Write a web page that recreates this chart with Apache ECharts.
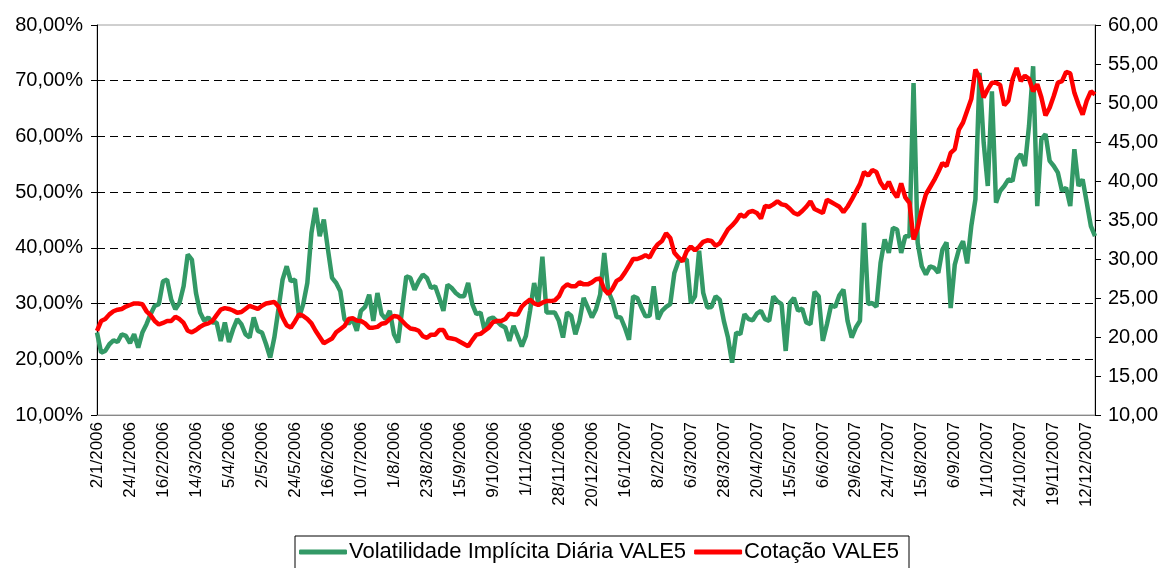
<!DOCTYPE html>
<html>
<head>
<meta charset="utf-8">
<script src="https://cdn.jsdelivr.net/npm/echarts@6/dist/echarts.min.js"></script>
<style>
  html, body { margin: 0; padding: 0; background: #fff; }
  #chart { width: 1167px; height: 568px; }
</style>
</head>
<body>
<div id="chart"></div>
<script>
// one label every 16 trading days; data sampled every 2 trading days
const tickLabels = [
  "2/1/2006", "24/1/2006", "16/2/2006", "14/3/2006", "5/4/2006", "2/5/2006",
  "24/5/2006", "16/6/2006", "10/7/2006", "1/8/2006", "23/8/2006", "15/9/2006",
  "9/10/2006", "1/11/2006", "28/11/2006", "20/12/2006", "16/1/2007", "8/2/2007",
  "6/3/2007", "28/3/2007", "20/4/2007", "15/5/2007", "6/6/2007", "29/6/2007",
  "24/7/2007", "15/8/2007", "6/9/2007", "1/10/2007", "24/10/2007", "19/11/2007",
  "12/12/2007"
];

const volatilidade = [
  24.8, 21.2, 21.5, 22.7, 23.4, 23.1, 24.5, 24.2, 22.9, 24.5,
  22.1, 24.8, 26.3, 28.1, 29.6, 29.9, 34.0, 34.3, 30.7, 29.0,
  30.1, 33.1, 38.8, 37.9, 31.9, 28.4, 26.9, 27.5, 26.6, 26.6,
  23.3, 26.6, 23.1, 25.4, 27.2, 26.3, 24.5, 23.9, 27.5, 25.1,
  24.8, 22.7, 20.3, 23.9, 29.0, 34.3, 36.7, 34.0, 34.3, 27.5,
  29.9, 33.7, 42.7, 47.2, 42.1, 45.1, 39.7, 34.6, 33.7, 32.2,
  27.2, 26.4, 27.2, 25.1, 28.7, 29.4, 31.6, 26.9, 31.9, 28.1,
  27.2, 28.7, 24.5, 23.0, 29.0, 34.9, 34.6, 32.5, 34.0, 35.2,
  34.6, 32.8, 33.1, 31.0, 28.7, 33.4, 32.8, 31.9, 31.3, 31.3,
  33.7, 29.9, 28.1, 28.4, 25.1, 27.2, 27.5, 26.8, 26.1, 25.7,
  23.3, 26.0, 24.2, 22.3, 24.2, 28.7, 33.7, 30.1, 38.4, 28.4,
  28.4, 28.4, 26.9, 23.9, 28.4, 27.8, 24.5, 26.9, 31.0, 29.3,
  27.5, 29.0, 31.6, 39.1, 32.2, 30.4, 27.6, 27.5, 25.7, 23.5,
  31.3, 31.0, 29.3, 27.7, 27.8, 33.1, 27.2, 28.7, 29.4, 29.9,
  35.5, 37.6, 37.9, 37.9, 30.1, 31.3, 39.5, 31.9, 29.3, 29.4,
  31.3, 30.7, 26.9, 23.9, 19.4, 24.8, 24.5, 28.1, 27.2, 27.0,
  28.2, 28.7, 27.2, 26.9, 31.3, 30.4, 29.9, 21.5, 30.1, 31.0,
  28.7, 29.1, 26.6, 26.3, 32.1, 31.3, 23.3, 26.3, 29.7, 29.4,
  31.5, 32.5, 26.9, 23.9, 25.7, 26.9, 44.5, 29.9, 30.1, 29.4,
  37.3, 41.5, 39.1, 43.6, 43.3, 39.1, 42.1, 42.1, 69.6, 40.9,
  36.7, 35.2, 36.7, 36.4, 35.5, 39.7, 41.0, 29.2, 37.0, 39.7,
  41.2, 37.2, 43.9, 48.7, 71.4, 58.9, 51.1, 68.1, 48.1, 50.2,
  51.1, 52.3, 52.0, 55.9, 56.8, 54.7, 61.9, 72.6, 47.5, 59.5,
  60.4, 55.6, 54.7, 53.5, 50.2, 50.8, 47.5, 57.7, 51.1, 52.3,
  48.1, 43.9, 42.1
];

const cotacao = [
  20.8, 22.05, 22.3, 22.9, 23.3, 23.5, 23.6, 23.9, 24.1, 24.3,
  24.3, 24.2, 23.3, 22.8, 22.05, 21.6, 21.8, 22.05, 22.05, 22.6,
  22.3, 21.8, 20.8, 20.6, 20.9, 21.3, 21.6, 21.75, 22.05, 22.8,
  23.5, 23.7, 23.6, 23.4, 23.1, 23.2, 23.6, 24.0, 23.8, 23.6,
  24.0, 24.3, 24.4, 24.5, 23.9, 22.5, 21.5, 21.2, 22.0, 22.9,
  22.7, 22.3, 21.75, 20.8, 20.0, 19.2, 19.5, 19.8, 20.6, 21.0,
  21.4, 22.3, 22.4, 22.1, 22.05, 21.75, 21.2, 21.2, 21.3, 21.7,
  21.8, 22.3, 22.7, 22.6, 22.05, 21.5, 21.1, 21.0, 20.8, 20.1,
  19.9, 20.3, 20.3, 20.9, 20.9, 19.9, 19.8, 19.7, 19.4, 19.1,
  18.8, 19.6, 20.3, 20.4, 20.8, 21.2, 21.9, 22.05, 22.05, 22.3,
  23.0, 22.9, 22.9, 23.9, 24.4, 24.8, 24.3, 24.1, 24.4, 24.6,
  24.6, 24.7, 25.2, 26.3, 26.75, 26.5, 26.5, 27.0, 26.75, 26.75,
  27.0, 27.4, 27.5, 26.1, 25.5, 26.2, 27.2, 27.5, 28.25, 29.1,
  30.0, 30.0, 30.2, 30.5, 30.2, 31.2, 31.9, 32.3, 33.3, 32.7,
  30.8, 30.2, 29.7, 31.0, 31.6, 31.1, 31.6, 32.2, 32.4, 32.3,
  31.7, 32.0, 32.9, 33.8, 34.3, 34.9, 35.7, 35.4, 36.0, 36.15,
  35.9, 35.2, 36.8, 36.7, 37.0, 37.4, 37.0, 36.9, 36.45, 35.9,
  35.7, 36.15, 36.7, 37.4, 36.4, 36.15, 35.9, 37.6, 37.3, 37.0,
  36.7, 36.0, 36.7, 37.6, 38.6, 39.6, 41.15, 40.7, 41.4, 41.15,
  39.8, 39.0, 39.9, 38.7, 37.9, 39.7, 37.9, 37.2, 32.5, 34.0,
  36.4, 38.3, 39.2, 40.1, 41.15, 42.3, 41.9, 43.6, 44.1, 46.6,
  47.5, 49.0, 50.5, 54.3, 53.25, 50.7, 51.75, 52.6, 52.6, 52.3,
  49.7, 50.3, 53.0, 54.5, 52.8, 53.5, 53.1, 51.5, 52.4, 50.7,
  48.4, 49.4, 50.9, 52.6, 52.8, 54.0, 53.8, 51.3, 49.8, 48.5,
  50.3, 51.5, 51.1
];

// labelled every 8th sample, other categories just hold their index
const categories = volatilidade.map((_, i) => (i % 8 === 0 ? tickLabels[i / 8] : String(i)));

const fmt = (v) => v.toFixed(2).replace(".", ",");

const chart = echarts.init(document.getElementById("chart"));
chart.setOption({
  animation: false,
  backgroundColor: "#fff",
  textStyle: { fontFamily: "Liberation Sans, Arial, sans-serif" },
  grid: {
    left: 97,
    right: 72,
    top: 25,
    bottom: 153,
    show: true,
    borderColor: "#a0a0a0",
    borderWidth: 1,
  },
  legend: {
    left: 295,
    top: 536,
    padding: [5, 10, 14, 4],
    borderColor: "#000",
    borderWidth: 1,
    icon: "roundRect",
    itemWidth: 48,
    itemHeight: 5,
    itemGap: 8,
    textStyle: { fontSize: 22, color: "#000", padding: [0, 0, 0, -3] },
    data: ["Volatilidade Implícita Diária VALE5", "Cotação VALE5"],
  },
  xAxis: {
    type: "category",
    data: categories,
    boundaryGap: false,
    axisLine: { lineStyle: { color: "#888", width: 1 } },
    axisTick: { show: false },
    axisLabel: {
      interval: 7,
      rotate: 90,
      margin: 7,
      fontSize: 17,
      color: "#000",
    },
  },
  yAxis: [
    {
      type: "value",
      min: 10,
      max: 80,
      interval: 10,
      axisLine: { show: true, lineStyle: { color: "#000", width: 1 } },
      axisTick: { show: true, length: 6, lineStyle: { color: "#000" } },
      axisLabel: {
        margin: 14,
        fontSize: 20,
        color: "#000",
        formatter: (v) => fmt(v) + "%",
      },
      splitLine: {
        show: true,
        showMinLine: false,
        showMaxLine: false,
        lineStyle: { color: "#000", type: [8, 5], width: 1 },
      },
    },
    {
      type: "value",
      min: 10,
      max: 60,
      interval: 5,
      position: "right",
      axisLine: { show: true, lineStyle: { color: "#000", width: 1 } },
      axisTick: { show: true, length: 6, lineStyle: { color: "#000" } },
      axisLabel: {
        margin: 13,
        fontSize: 20,
        color: "#000",
        formatter: fmt,
      },
      splitLine: { show: false },
    },
  ],
  series: [
    {
      name: "Volatilidade Implícita Diária VALE5",
      type: "line",
      yAxisIndex: 0,
      data: volatilidade,
      symbol: "none",
      lineStyle: { color: "#339966", width: 4.5 },
      itemStyle: { color: "#339966" },
    },
    {
      name: "Cotação VALE5",
      type: "line",
      yAxisIndex: 1,
      data: cotacao,
      symbol: "none",
      lineStyle: { color: "#ff0000", width: 4.5 },
      itemStyle: { color: "#ff0000" },
    },
  ],
});
</script>
</body>
</html>
